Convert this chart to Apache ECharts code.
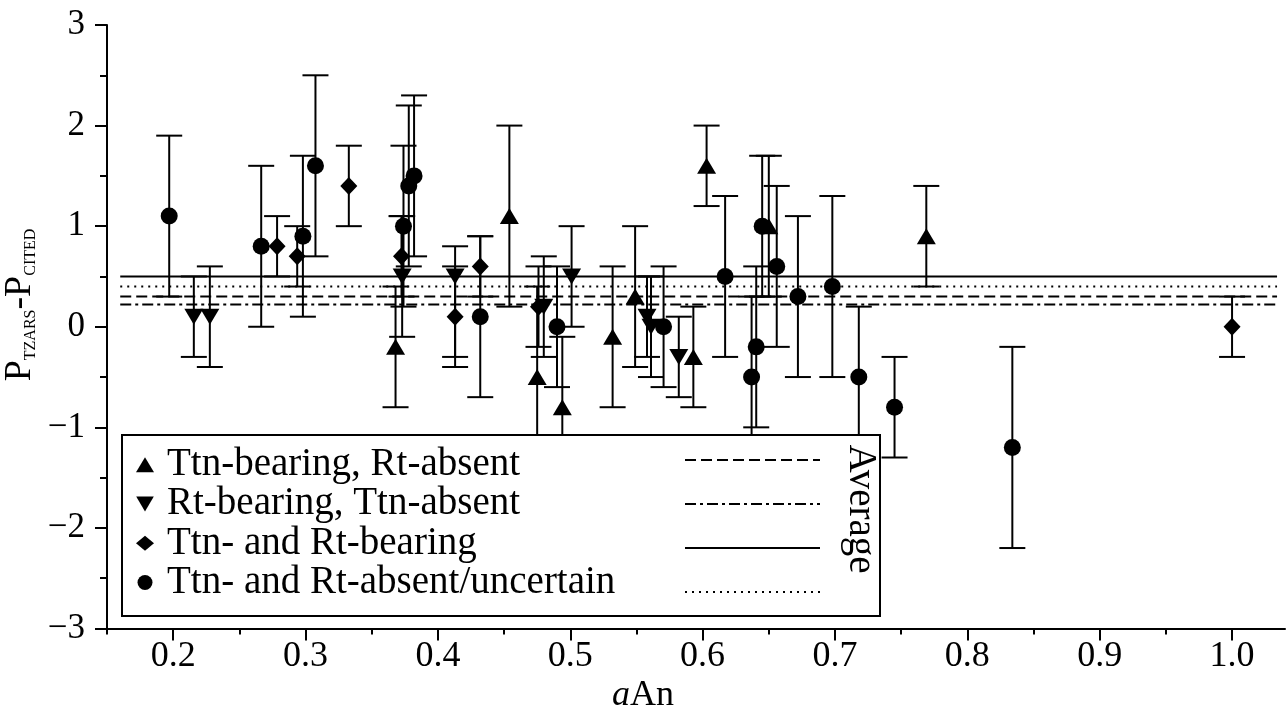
<!DOCTYPE html>
<html>
<head>
<meta charset="utf-8">
<script src="https://cdn.jsdelivr.net/npm/echarts@6/dist/echarts.min.js"></script>
<style>
html, body { margin: 0; padding: 0; background: #fff; }
#chart { width: 1288px; height: 712px; }
</style>
</head>
<body>
<div id="chart"></div>
<script>
var FONT = '"Liberation Serif", "Times New Roman", serif';

// group names (legend order)
var groupNames = ['Ttn-bearing, Rt-absent', 'Rt-bearing, Ttn-absent', 'Ttn- and Rt-bearing', 'Ttn- and Rt-absent/uncertain'];

// Ttn-bearing, Rt-absent (triangle up)
var upX  = [0.368, 0.454, 0.475, 0.494, 0.532, 0.549, 0.593, 0.603, 0.650, 0.769];
var upY  = [-0.2, 1.1, -0.5, -0.8, -0.1, 0.3, -0.3, 1.6, 1.0, 0.9];
var upLo = [-0.8, 0.2, -1.4, -1.5, -0.8, -0.4, -0.8, 1.2, 0.3, 0.4];
var upHi = [0.4, 2.0, 0.4, -0.1, 0.6, 1.0, 0.2, 2.0, 1.7, 1.4];

// Rt-bearing, Ttn-absent (triangle down)
var downX  = [0.2156, 0.2277, 0.373, 0.413, 0.480, 0.501, 0.558, 0.561, 0.582];
var downY  = [0.1, 0.1, 0.5, 0.5, 0.2, 0.5, 0.1, 0.0, -0.3];
var downLo = [-0.3, -0.4, -0.1, -0.3, -0.3, 0.0, -0.3, -0.5, -0.7];
var downHi = [0.5, 0.6, 1.1, 0.8, 0.7, 1.0, 0.5, 0.5, 0.1];

// Ttn- and Rt-bearing (diamond)
var diaX  = [0.2785, 0.2937, 0.3327, 0.3725, 0.413, 0.432, 0.476, 1.0];
var diaY  = [0.8, 0.7, 1.4, 0.7, 0.1, 0.6, 0.2, 0.0];
var diaLo = [0.5, 0.4, 1.0, 0.3, -0.4, 0.3, -0.2, -0.3];
var diaHi = [1.1, 1.0, 1.8, 1.1, 0.6, 0.9, 0.6, 0.3];

// Ttn- and Rt-absent/uncertain (circle)
var cirX  = [0.197, 0.2665, 0.298, 0.3075, 0.374, 0.378, 0.382, 0.432, 0.490, 0.5705, 0.617, 0.637, 0.6405, 0.645, 0.656, 0.672, 0.698, 0.718, 0.745, 0.834];
var cirY  = [1.1, 0.8, 0.9, 1.6, 1.0, 1.4, 1.5, 0.1, 0.0, 0.0, 0.5, -0.5, -0.2, 1.0, 0.6, 0.3, 0.4, -0.5, -0.8, -1.2];
var cirLo = [0.3, 0.0, 0.1, 0.7, 0.2, 0.6, 0.7, -0.7, -0.6, -0.6, -0.3, -1.3, -1.0, 0.3, -0.2, -0.5, -0.5, -1.2, -1.3, -2.2];
var cirHi = [1.9, 1.6, 1.7, 2.5, 1.8, 2.2, 2.3, 0.9, 0.6, 0.6, 1.3, 0.3, 0.6, 1.7, 1.4, 1.1, 1.3, 0.2, -0.3, -0.2];

// group averages (dashed, dash-dot, solid, dotted)
var averages = [0.3, 0.22, 0.5, 0.4];
var avgSpan = [0.16, 1.034];

var xMajor = [0.2, 0.3, 0.4, 0.5, 0.6, 0.7, 0.8, 0.9, 1.0];
var xMinor = [0.15, 0.25, 0.35, 0.45, 0.55, 0.65, 0.75, 0.85, 0.95];

var groups = [
    {x: upX, y: upY, lo: upLo, hi: upHi, symbol: 'triangle', rotate: 0, size: [19, 16], icon: 'triangle'},
    {x: downX, y: downY, lo: downLo, hi: downHi, symbol: 'triangle', rotate: 180, size: [19, 16], icon: 'path://M0,0L20,0L10,17Z'},
    {x: diaX, y: diaY, lo: diaLo, hi: diaHi, symbol: 'diamond', rotate: 0, size: [17, 18], icon: 'diamond'},
    {x: cirX, y: cirY, lo: cirLo, hi: cirHi, symbol: 'circle', rotate: 0, size: 17, icon: 'circle'}
];
var lineTypes = [[11, 5], [11, 4, 3, 4], 'solid', [2, 5]];

function zip2(a, b) {
    return a.map(function (v, i) { return [v, b[i]]; });
}
function zip3(a, b, c) {
    return a.map(function (v, i) { return [v, b[i], c[i]]; });
}

function renderError(params, api) {
    var x = api.value(0);
    var top = api.coord([x, api.value(2)]);
    var bot = api.coord([x, api.value(1)]);
    var w = 13;
    var st = {stroke: '#000', lineWidth: 2};
    return {
        type: 'group',
        children: [
            {type: 'line', shape: {x1: top[0], y1: top[1], x2: bot[0], y2: bot[1]}, style: st},
            {type: 'line', shape: {x1: top[0] - w, y1: top[1], x2: top[0] + w, y2: top[1]}, style: st},
            {type: 'line', shape: {x1: bot[0] - w, y1: bot[1], x2: bot[0] + w, y2: bot[1]}, style: st}
        ]
    };
}

var series = [];
groups.forEach(function (g, i) {
    series.push({
        type: 'custom',
        renderItem: renderError,
        data: zip3(g.x, g.lo, g.hi),
        encode: {x: 0, y: [1, 2]},
        silent: true,
        z: 2
    });
});
averages.forEach(function (v, i) {
    series.push({
        type: 'line',
        data: [[avgSpan[0], v], [avgSpan[1], v]],
        symbol: 'none',
        silent: true,
        lineStyle: {color: '#000', width: 2, type: lineTypes[i]},
        z: 1
    });
});
groups.forEach(function (g, i) {
    series.push({
        name: groupNames[i],
        type: 'scatter',
        data: zip2(g.x, g.y),
        symbol: g.symbol,
        symbolRotate: g.rotate,
        symbolSize: g.size,
        itemStyle: {color: '#000', opacity: 1},
        z: 3
    });
});

// legend line samples for the averages
var legendRows = [460, 504, 548, 592];

var graphics = [
    {type: 'rect', z: 10, shape: {x: 122, y: 435, width: 758, height: 181},
        style: {fill: '#fff', stroke: '#000', lineWidth: 2}},
    {type: 'text', z: 12, x: 860, y: 509, rotation: -Math.PI / 2,
        style: {text: 'Average', font: '39px ' + FONT, fill: '#000', align: 'center', verticalAlign: 'middle'}},
    {type: 'text', z: 12, x: 643, y: 696,
        style: {text: '{i|a}{n|An}', align: 'center', verticalAlign: 'middle', fill: '#000',
            rich: {i: {font: 'italic 36px ' + FONT, fill: '#000'}, n: {font: '36px ' + FONT, fill: '#000'}}}},
    {type: 'text', z: 12, x: 20, y: 305, rotation: Math.PI / 2,
        style: {text: '{p|P}{s|TZARS}{p|-P}{s|CITED}', align: 'center', verticalAlign: 'middle', fill: '#000',
            rich: {
                p: {font: '38px ' + FONT, fill: '#000', verticalAlign: 'bottom', lineHeight: 38},
                s: {font: '16px ' + FONT, fill: '#000', verticalAlign: 'bottom', lineHeight: 38}
            }}}
];
legendRows.forEach(function (yy, i) {
    graphics.push({type: 'line', z: 12, shape: {x1: 685, y1: yy, x2: 820, y2: yy},
        style: {stroke: '#000', lineWidth: 2, lineDash: lineTypes[i] === 'solid' ? null : lineTypes[i]}});
});

var chart = echarts.init(document.getElementById('chart'), null, {renderer: 'canvas'});
chart.setOption({
    animation: false,
    backgroundColor: '#fff',
    grid: {left: 107, right: 3, top: 25, bottom: 83.5, outerBoundsMode: 'none', containLabel: false},
    legend: {
        data: groupNames.map(function (n, i) {
            return {name: n, icon: groups[i].icon, itemStyle: {color: '#000'}};
        }),
        orient: 'vertical',
        left: 136,
        top: 445,
        padding: 0,
        itemGap: 0,
        itemWidth: 18,
        itemHeight: 15,
        selectedMode: false,
        z: 20,
        textStyle: {fontFamily: FONT, fontSize: 39, color: '#000', lineHeight: 39.3, padding: [0, 0, 0, 8]}
    },
    xAxis: [{
        type: 'value',
        min: 0.15,
        max: 1.04,
        axisLine: {onZero: false, lineStyle: {color: '#000', width: 2}},
        axisTick: {show: true, customValues: xMajor, length: 12, inside: false, lineStyle: {color: '#000', width: 2}},
        axisLabel: {customValues: xMajor, margin: 10, fontFamily: FONT, fontSize: 36, color: '#000',
            formatter: function (v) { return v.toFixed(1); }},
        splitLine: {show: false}
    }, {
        type: 'value',
        min: 0.15,
        max: 1.04,
        position: 'bottom',
        axisLine: {show: false, onZero: false},
        axisTick: {show: true, customValues: xMinor, length: 6, lineStyle: {color: '#000', width: 2}},
        axisLabel: {show: false},
        splitLine: {show: false}
    }],
    yAxis: {
        type: 'value',
        min: -3,
        max: 3,
        interval: 1,
        axisLine: {onZero: false, lineStyle: {color: '#000', width: 2}},
        axisTick: {length: 12, lineStyle: {color: '#000', width: 2}},
        minorTick: {show: true, splitNumber: 2, length: 7, lineStyle: {color: '#000', width: 2}},
        axisLabel: {margin: 22, fontFamily: FONT, fontSize: 35, color: '#000',
            formatter: function (v) { return String(v).replace('-', '\u2212'); }},
        splitLine: {show: false}
    },
    graphic: graphics,
    series: series
});
</script>
</body>
</html>
